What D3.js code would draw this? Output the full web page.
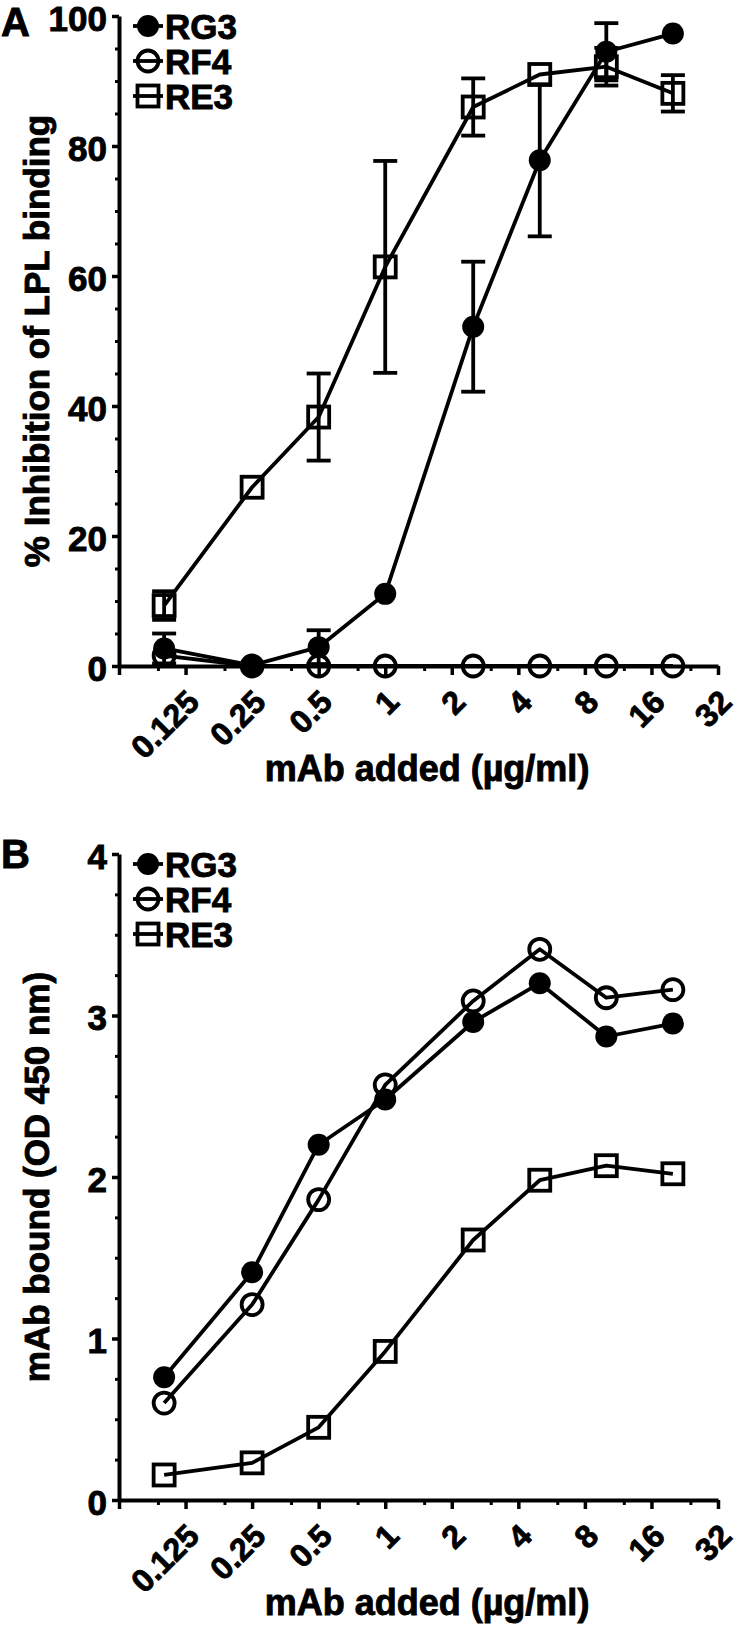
<!DOCTYPE html>
<html>
<head>
<meta charset="utf-8">
<script src="https://cdnjs.cloudflare.com/ajax/libs/d3/7.8.5/d3.min.js"></script>
<style>
  html, body { margin: 0; padding: 0; background: #fff; }
  svg text { font-family: "Liberation Sans", Arial, Helvetica, sans-serif; font-weight: bold; fill: #000; stroke: #000; stroke-width: 0.9px; }
</style>
</head>
<body>
<svg id="chart" width="742" height="1625"></svg>
<script>
// ---------- data ----------
const doses = [0.1, 0.25, 0.5, 1, 2.5, 5, 10, 20];
const xMajorTicks = [0.0625, 0.125, 0.25, 0.5, 1, 2, 4, 8, 16, 32];
const xTickLabels = ["", "0.125", "0.25", "0.5", "1", "2", "4", "8", "16", "32"];
const xMinorTicks = [0.09375, 0.1875, 0.375, 0.75, 1.5, 3, 6, 12, 24];
const seriesNames = ["RG3", "RF4", "RE3"];

// Panel A: % inhibition of LPL binding
const rg3Inhib = [2.7, 0.1, 2.9, 11.1, 52.2, 77.8, 94.5, 97.3];
const rg3InhibErr = [2.3, 0, 2.6, 0, 10.0, 11.7, 4.4, 0];
const rf4Inhib = [1.6, 0, 0, 0, 0, 0, 0, 0];
const re3Inhib = [9.3, 27.5, 38.3, 61.4, 86.0, 91.0, 92.2, 88.1];
const re3InhibErr = [2.2, 0, 6.7, 16.3, 4.4, 0, 2.9, 2.8];
const yTicksA = [0, 20, 40, 60, 80, 100];

// Panel B: mAb bound (OD 450 nm)
const rg3Bound = [0.76, 1.41, 2.20, 2.48, 2.96, 3.20, 2.87, 2.95];
const rf4Bound = [0.60, 1.21, 1.86, 2.57, 3.09, 3.41, 3.11, 3.16];
const re3Bound = [0.155, 0.23, 0.45, 0.92, 1.61, 1.98, 2.07, 2.02];
const yTicksB = [0, 1, 2, 3, 4];

const xTitle = "mAb added (\u00b5g/ml)";
const yTitleA = "% Inhibition of LPL binding";
const yTitleB = "mAb bound (OD 450 nm)";

// ---------- drawing ----------
const svg = d3.select("#chart");
const LW = 3.8;

const x = d3.scaleLog().base(2).domain([0.0625, 32]).range([119, 718]);

function drawPanel(cfg) {
  const g = svg.append("g");
  const y = cfg.y;
  const y0 = y.range()[0];

  // minor y ticks
  g.append("g").attr("transform", `translate(${x.range()[0]},0)`)
    .call(d3.axisLeft(y).tickValues(cfg.yMinor).tickSize(4).tickFormat(""))
    .call(s => { s.select(".domain").remove(); s.selectAll("line").attr("stroke-width", 3); });
  // major y axis
  g.append("g").attr("transform", `translate(${x.range()[0]},0)`)
    .call(d3.axisLeft(y).tickValues(cfg.yTicks).tickSize(7).tickSizeOuter(0).tickPadding(5).tickFormat(d3.format("d")))
    .call(s => {
      s.select(".domain").attr("stroke-width", 4);
      s.selectAll("line").attr("stroke-width", 3.5);
      s.selectAll("text").attr("font-size", 35).attr("font-family", null).attr("dy", "0.40em");
    });
  // minor x ticks
  g.append("g").attr("transform", `translate(0,${y0})`)
    .call(d3.axisBottom(x).tickValues(xMinorTicks).tickSize(5).tickFormat(""))
    .call(s => { s.select(".domain").remove(); s.selectAll("line").attr("stroke-width", 3); });
  // major x axis
  g.append("g").attr("transform", `translate(0,${y0})`)
    .call(d3.axisBottom(x).tickValues(xMajorTicks).tickSize(9).tickSizeOuter(0)
      .tickFormat((d, i) => xTickLabels[i]))
    .call(s => {
      s.select(".domain").attr("stroke-width", 4);
      s.selectAll("line").attr("stroke-width", 3.5);
      s.selectAll("text").attr("font-size", 32).attr("font-family", null)
        .attr("y", null).attr("dy", null).attr("text-anchor", "end")
        .attr("transform", "translate(15,38) rotate(-45)");
    });

  // axis titles
  g.append("text").attr("x", 427).attr("y", y0 + 115)
    .attr("text-anchor", "middle").attr("font-size", 36).text(xTitle);
  g.append("text")
    .attr("transform", `translate(49,${(y.range()[0] + y.range()[1]) / 2}) rotate(-90)`)
    .attr("text-anchor", "middle").attr("font-size", 35).text(cfg.yTitle);
  // panel letter
  g.append("text").attr("x", 1).attr("y", cfg.letterY).attr("font-size", 40).text(cfg.letter);

  const line = d3.line().x((d, i) => x(doses[i])).y(d => y(d));

  // series
  cfg.series.forEach(s => {
    if (s.err) {
      s.vals.forEach((v, i) => {
        const e = s.err[i];
        if (!e) return;
        const cx = x(doses[i]);
        g.append("line").attr("x1", cx).attr("x2", cx).attr("y1", y(v - e)).attr("y2", y(v + e))
          .attr("stroke", "#000").attr("stroke-width", LW);
        [v - e, v + e].forEach(t => {
          g.append("line").attr("x1", cx - 12).attr("x2", cx + 12).attr("y1", y(t)).attr("y2", y(t))
            .attr("stroke", "#000").attr("stroke-width", LW);
        });
      });
    }
    g.append("path").datum(s.vals).attr("d", line).attr("fill", "none")
      .attr("stroke", "#000").attr("stroke-width", LW).attr("stroke-linejoin", "round");
    s.vals.forEach((v, i) => drawMarker(g, s.shape, x(doses[i]), y(v)));
  });

  // legend
  const top = y.range()[1];
  seriesNames.forEach((name, k) => {
    const ly = top + 10 + k * 35;
    g.append("line").attr("x1", 133).attr("x2", 163).attr("y1", ly).attr("y2", ly)
      .attr("stroke", "#000").attr("stroke-width", LW);
    drawMarker(g, cfg.series[k].shape, 148, ly);
    g.append("text").attr("x", 165).attr("y", ly + 12.5).attr("font-size", 35).text(name);
  });
}

function drawMarker(g, shape, cx, cy) {
  if (shape === "filled") {
    g.append("circle").attr("cx", cx).attr("cy", cy).attr("r", 11).attr("fill", "#000");
  } else if (shape === "open") {
    g.append("circle").attr("cx", cx).attr("cy", cy).attr("r", 10.5)
      .attr("fill", "none").attr("stroke", "#000").attr("stroke-width", LW);
  } else {
    g.append("rect").attr("x", cx - 10.5).attr("y", cy - 10.5).attr("width", 21).attr("height", 21)
      .attr("fill", "none").attr("stroke", "#000").attr("stroke-width", LW);
  }
}

const yA = d3.scaleLinear().domain([0, 100]).range([666, 16]);
const yB = d3.scaleLinear().domain([0, 4]).range([1500, 854]);

drawPanel({
  y: yA, yTicks: yTicksA, yMinor: d3.range(5, 100, 5).filter(v => v % 20 !== 0),
  yTitle: yTitleA, letter: "A", letterY: 36,
  series: [
    { shape: "filled", vals: rg3Inhib, err: rg3InhibErr },
    { shape: "open", vals: rf4Inhib },
    { shape: "square", vals: re3Inhib, err: re3InhibErr }
  ]
});
drawPanel({
  y: yB, yTicks: yTicksB, yMinor: d3.range(0.25, 4, 0.25).filter(v => v % 1 !== 0),
  yTitle: yTitleB, letter: "B", letterY: 868,
  series: [
    { shape: "filled", vals: rg3Bound },
    { shape: "open", vals: rf4Bound },
    { shape: "square", vals: re3Bound }
  ]
});
</script>
</body>
</html>
